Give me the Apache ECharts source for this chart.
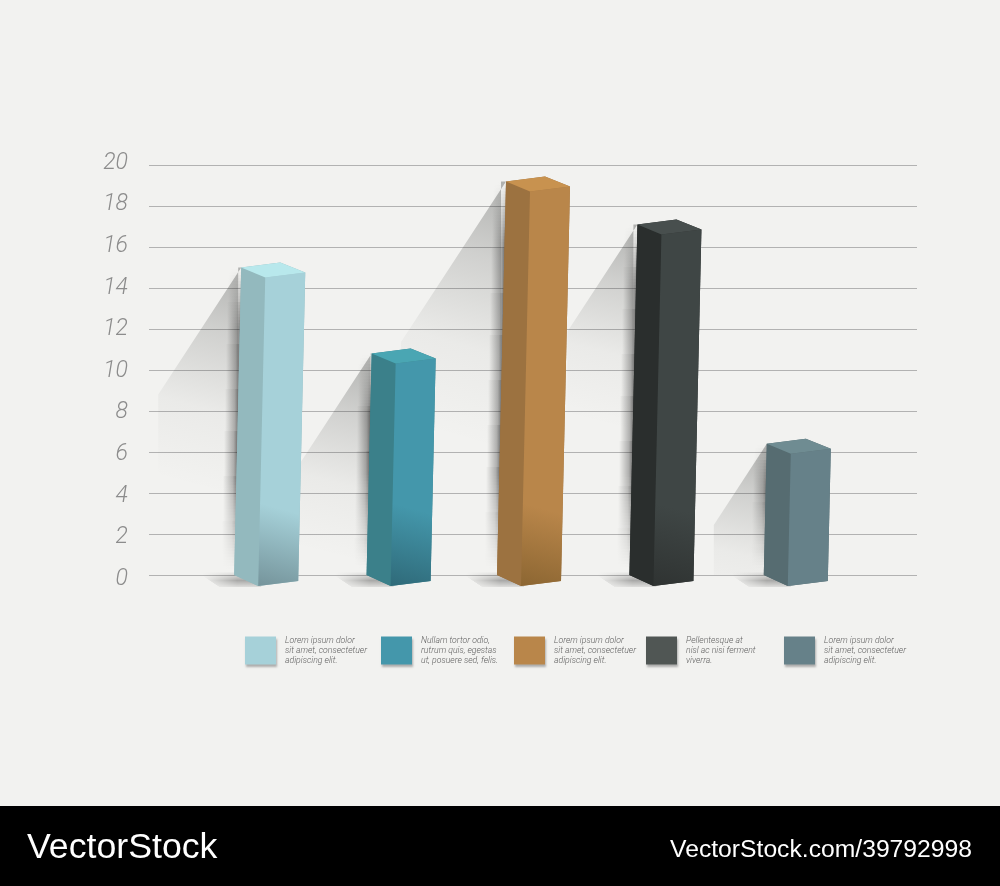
<!DOCTYPE html>
<html>
<head>
<meta charset="utf-8">
<style>html,body{margin:0;padding:0;background:#f2f2f0}#c{width:1000px;height:886px}</style>
<script src="https://cdn.jsdelivr.net/npm/echarts@6/dist/echarts.min.js"></script>
</head>
<body>
<div id="c"></div>
<script>
// ---- data ----
var seriesNames = ['Bar 1', 'Bar 2', 'Bar 3', 'Bar 4', 'Bar 5'];
var values = [15, 10.8, 19.2, 17.1, 6.4];
var legendTexts = [
  'Lorem ipsum dolor\nsit amet, consectetuer\nadipiscing elit.',
  'Nullam tortor odio,\nrutrum quis, egestas\nut, posuere sed, felis.',
  'Lorem ipsum dolor\nsit amet, consectetuer\nadipiscing elit.',
  'Pellentesque at\nnisl ac nisi ferment\nviverra.',
  'Lorem ipsum dolor\nsit amet, consectetuer\nadipiscing elit.'
];
var yMin = 0, yMax = 20, yStep = 2;

// ---- styles ----
var swatchColors = ['#a6d1d9', '#4497ab', '#b9864a', '#505654', '#668189'];
var frontColors  = ['#a6d1d9', '#4497ab', '#b9864a', '#3f4645', '#668189'];
var frontDark    = ['#75949b', '#2f6a79', '#8c6632', '#2f3332', '#668189'];
var sideColors   = ['#93b9be', '#3b808a', '#9c7240', '#2a2e2d', '#566c71'];
var topColors    = ['#b8e8ec', '#4aa6b3', '#c8924f', '#484f4e', '#6f8c92'];
var shadowReach  = [83, 72, 105, 70, 53];
var barNudge     = [0, 0, -2, -2, 0];
var legendSwatchX = [245, 381, 514, 646, 784];

var GRID_LEFT = 200, GRID_W = 662, GRID_TOP = 165, GRID_H = 410;

function barGeom(api, i, v) {
  var b = api.coord([i, 0]), t = api.coord([i, v]);
  var cx = b[0] + barNudge[i], y0 = b[1], yt = t[1];
  var lean = (y0 - yt) * 0.0229;
  return {
    cx: cx, y0: y0, yt: yt,
    bl: [cx - 32, y0], bf: [cx - 8, y0 + 11], br: [cx + 32, y0 + 6],
    tl: [cx - 32 + lean, yt], tf: [cx - 8 + lean, yt + 10],
    tr: [cx + 32 + lean, yt + 5], tb: [cx + 7 + lean, yt - 5]
  };
}

function fadeStrip(x0, x1, y, h, alpha) {
  return { type: 'rect', silent: true,
    shape: { x: x1, y: y, width: x0 - x1, height: h },
    style: { fill: { type: 'linear', global: true, x: x0, y: 0, x2: x1, y2: 0, colorStops: [
      { offset: 0, color: 'rgba(0,0,0,' + alpha + ')' },
      { offset: 0.35, color: 'rgba(0,0,0,' + alpha * 0.45 + ')' },
      { offset: 1, color: 'rgba(0,0,0,0)' }
    ] } } };
}

function renderShadow(params, api) {
  var i = api.value(0), g = barGeom(api, i, api.value(1));
  var reach = shadowReach[i];
  var tip = [g.tl[0] - reach, g.yt + reach * 1.53];
  var children = [
    { type: 'polygon', silent: true,
      shape: { points: [g.tl, tip, [tip[0], g.y0], [g.bl[0] + 4, g.y0], [g.bl[0] + 4, g.yt]] },
      style: { fill: { type: 'linear', global: true,
        x: g.tl[0], y: g.yt, x2: tip[0] + reach * 0.3, y2: tip[1] + 90,
        colorStops: [
          { offset: 0, color: 'rgba(40,42,40,0.32)' },
          { offset: 0.3, color: 'rgba(40,42,40,0.17)' },
          { offset: 0.65, color: 'rgba(40,42,40,0.04)' },
          { offset: 1, color: 'rgba(40,42,40,0)' }
        ] } } }
  ];
  // contact shadow along the left edge: strong mid-height, gone at the base
  var yStart = Math.round(g.yt) + 1, H = g.y0 - g.yt;
  for (var y = yStart; y < g.y0 - 2; y += 3) {
    var edge = Math.round(g.bl[0] + (g.y0 - y) * 0.0229) + 2;
    var rise = Math.min(1, (y - g.yt) / Math.min(60, H * 0.35));
    var fade = Math.max(0, Math.min(1, (g.y0 - 8 - y) / 95));
    children.push(fadeStrip(edge, edge - 15, y, 3, +(0.62 * rise * fade).toFixed(3)));
  }
  // ground shadow left of the base
  for (var r = -4; r < 12; r++) {
    var bell = 1 - Math.abs(r - 5) / 9;
    var right = g.bl[0] + 3 + (r > 0 ? r * 24 / 11 : 0);
    children.push({ type: 'rect', silent: true,
      shape: { x: g.bl[0] - 32 + Math.max(0, r) * 1.5, y: g.y0 + r, width: right - (g.bl[0] - 32 + Math.max(0, r) * 1.5), height: 1 },
      style: { fill: { type: 'linear', global: true, x: g.bl[0] + 3, y: 0, x2: g.bl[0] - 32, y2: 0, colorStops: [
        { offset: 0, color: 'rgba(0,0,0,' + (0.3 * bell).toFixed(3) + ')' },
        { offset: 1, color: 'rgba(0,0,0,0)' }
      ] } } });
  }
  return { type: 'group', children: children };
}

function renderBar(params, api) {
  var i = api.value(0), g = barGeom(api, i, api.value(1));
  return {
    type: 'group',
    children: [
      { type: 'polygon', shape: { points: [g.tl, g.tb, g.tr, g.br, g.bf, g.bl] },
        style: { fill: sideColors[i] } },
      { type: 'polygon', shape: { points: [g.tl, g.tf, g.bf, g.bl] },
        style: { fill: sideColors[i] } },
      { type: 'polygon', shape: { points: [g.tf, g.tr, g.br, g.bf] },
        style: { fill: { type: 'linear', global: true,
          x: g.cx + 30, y: Math.max(g.yt + 40, g.y0 - 130), x2: g.cx - 8, y2: g.y0 + 11,
          colorStops: [
            { offset: 0, color: frontColors[i] },
            { offset: 0.45, color: frontColors[i] },
            { offset: 1, color: frontDark[i] }
          ] } } },
      { type: 'polygon', shape: { points: [g.tl, g.tb, g.tr, g.tf] },
        style: { fill: topColors[i] } }
    ]
  };
}

var barSeries = values.map(function (v, i) {
  return {
    name: seriesNames[i], type: 'custom', xAxisIndex: 1, yAxisIndex: 1, z: 5,
    renderItem: renderBar, encode: { x: 0, y: 1 }, clip: false,
    itemStyle: { color: swatchColors[i] },
    data: [[i, v]]
  };
});
var shadowSeries = {
  type: 'custom', xAxisIndex: 1, yAxisIndex: 1, z: 2, silent: true,
  renderItem: renderShadow, encode: { x: 0, y: 1 }, clip: false,
  data: values.map(function (v, i) { return [i, v]; })
};

var legends = seriesNames.map(function (n, i) {
  return {
    data: [{ name: n, icon: 'rect' }], left: legendSwatchX[i], top: 635, padding: 0,
    itemWidth: 31, itemHeight: 28, selectedMode: false, orient: 'vertical',
    itemStyle: { shadowBlur: 2, shadowOffsetY: 2, shadowOffsetX: 1, shadowColor: 'rgba(0,0,0,0.28)' },
    formatter: function () { return legendTexts[i]; },
    textStyle: { fontFamily: 'Roboto', fontStyle: 'italic', fontWeight: 300, fontSize: 8.7,
      lineHeight: 10, color: '#5e5e5e', padding: [1, 0, 0, 4] }
  };
});

var chart = echarts.init(document.getElementById('c'), null, { renderer: 'canvas' });
chart.setOption({
  animation: false,
  backgroundColor: '#f2f2f0',
  grid: [
    { left: 149, width: 768, top: GRID_TOP, height: GRID_H },
    { left: GRID_LEFT, width: GRID_W, top: GRID_TOP, height: GRID_H },
    { left: 128, width: 10, top: 163, height: 416 }
  ],
  xAxis: [
    { gridIndex: 0, type: 'category', data: seriesNames, show: false },
    { gridIndex: 1, type: 'category', data: seriesNames, show: false },
    { gridIndex: 2, type: 'category', data: seriesNames, show: false }
  ],
  yAxis: [
    { gridIndex: 0, type: 'value', min: yMin, max: yMax, interval: yStep,
      axisLine: { show: false }, axisTick: { show: false }, axisLabel: { show: false },
      splitLine: { show: true, lineStyle: { color: '#b2b2b2', width: 1 } } },
    { gridIndex: 1, type: 'value', min: yMin, max: yMax, interval: yStep, show: false },
    { gridIndex: 2, type: 'value', min: yMin, max: yMax, interval: yStep,
      axisLine: { show: false }, axisTick: { show: false }, splitLine: { show: false },
      axisLabel: { margin: 0, fontFamily: 'Roboto', fontStyle: 'italic', fontWeight: 300,
        fontSize: 23, color: '#8c8c8c' } }
  ],
  legend: legends,
  series: [shadowSeries].concat(barSeries),
  graphic: [
    { type: 'rect', left: 0, top: 806, shape: { width: 1000, height: 80 }, style: { fill: '#000' }, silent: true },
    { type: 'text', left: 27, top: 830, style: { text: 'VectorStock', fill: '#fff',
      font: '35.7px "Liberation Sans"' } },
    { type: 'text', right: 28, top: 838, style: { text: 'VectorStock.com/39792998', fill: '#fff',
      font: '24.7px "Liberation Sans"' } }
  ]
});
</script>
</body>
</html>
